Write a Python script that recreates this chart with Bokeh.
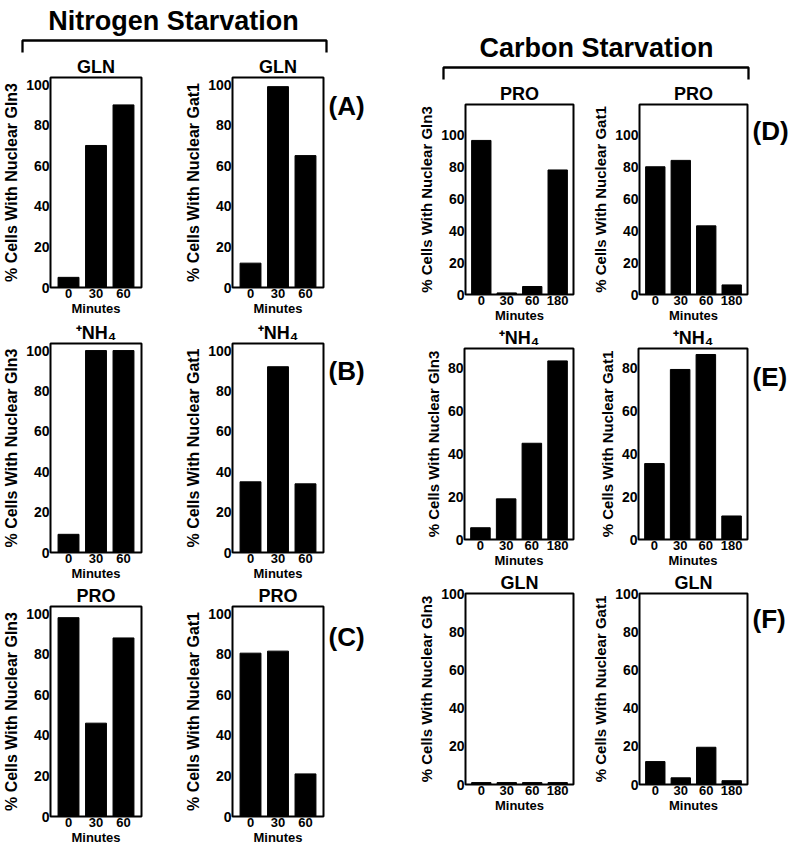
from bokeh.plotting import figure
from bokeh.layouts import row, column
from bokeh.models import FactorRange, Range1d, FixedTicker
from bokeh.core.properties import value
from bokeh.embed import file_html
from bokeh.resources import INLINE

FONT = "Liberation Sans"

# ---------------- data ----------------
minutes_n = ["0", "30", "60"]
minutes_c = ["0", "30", "60", "180"]

n_gln_gln3 = [5, 70, 90]
n_gln_gat1 = [12, 99, 65]
n_nh4_gln3 = [9, 100, 100]
n_nh4_gat1 = [35, 92, 34]
n_pro_gln3 = [98, 46, 88]
n_pro_gat1 = [80.5, 81.5, 21]

c_pro_gln3 = [96.5, 1, 5, 78]
c_pro_gat1 = [80, 84, 43, 6]
c_nh4_gln3 = [5.5, 19, 45, 83.5]
c_nh4_gat1 = [35.5, 79.5, 86.5, 11]
c_gln_gln3 = [1, 1, 1, 1]
c_gln_gat1 = [12, 3.5, 19.5, 2]

ticks_100 = [0, 20, 40, 60, 80, 100]
ticks_80 = [0, 20, 40, 60, 80]


def panel(factors, values, title, ylabel, width, height, bl, br, bt, bb,
          y_end, yticks, pad, ylabel_size):
    p = figure(width=width, height=height,
               x_range=FactorRange(*factors, range_padding=pad,
                                   range_padding_units="absolute"),
               y_range=Range1d(0, y_end),
               toolbar_location=None, output_backend="svg",
               min_border_left=bl, min_border_right=br,
               min_border_top=bt, min_border_bottom=bb)
    p.vbar(x=factors, top=values, width=0.76, color="black")
    p.grid.visible = False
    p.outline_line_color = "black"
    p.outline_line_width = 2
    p.outline_line_alpha = 1

    p.title.text = title
    p.title.align = "center"
    p.title.text_font = FONT
    p.title.text_font_size = "18px"
    p.title.text_font_style = "bold"
    p.title.text_color = "black"
    p.title.standoff = 1

    for ax in (p.xaxis[0], p.yaxis[0]):
        ax.axis_line_color = None
        ax.major_tick_line_color = None
        ax.minor_tick_line_color = None
        ax.major_tick_out = 0
        ax.major_tick_in = 0
        ax.minor_tick_out = 0
        ax.minor_tick_in = 0
        ax.major_label_text_font = FONT
        ax.major_label_text_font_style = "bold"
        ax.major_label_text_color = "black"
        ax.axis_label_text_font = FONT
        ax.axis_label_text_font_style = "bold"
        ax.axis_label_text_color = "black"

    p.xaxis.major_label_text_font_size = "13px"
    p.xaxis.axis_label = "Minutes"
    p.xaxis.axis_label_text_font_size = "13px"
    p.xaxis.major_label_standoff = 1
    p.xaxis.axis_label_standoff = 0

    p.yaxis.ticker = FixedTicker(ticks=yticks)
    p.yaxis.major_label_text_font_size = "14px"
    p.yaxis.axis_label = ylabel
    p.yaxis.axis_label_text_font_size = ylabel_size
    p.yaxis.major_label_standoff = 1
    p.yaxis.axis_label_standoff = 3
    return p


def blank(width, height):
    p = figure(width=width, height=height, x_range=Range1d(0, width),
               y_range=Range1d(height, 0), toolbar_location=None,
               output_backend="svg", x_axis_type=None, y_axis_type=None,
               min_border=0, outline_line_color=None)
    p.grid.visible = False
    return p


def header(text, width, height, cx, cy, x0, x1, ybar, ytick):
    p = blank(width, height)
    p.text(x=[cx], y=[cy], text=[text], text_font=value(FONT),
           text_font_size="27px", text_font_style="bold",
           text_align="center", text_baseline="middle", color="black")
    p.line(x=[x0, x0, x1, x1], y=[ytick, ybar, ybar, ytick],
           line_width=2.3, color="black")
    return p


def letter_fig(letter, width, height, y):
    p = blank(width, height)
    p.text(x=[0], y=[y], text=[letter], text_font=value(FONT),
           text_font_size="26px", text_font_style="bold",
           text_align="left", text_baseline="middle", color="black")
    return p


G3 = "% Cells With Nuclear Gln3"
G1 = "% Cells With Nuclear Gat1"
NH4 = "\u207aNH\u2084"

# ---------------- left block (Nitrogen) ----------------
LP = 0.155
L_FW = 91
hdrL = header("Nitrogen Starvation", 415, 54, 173, 20, 22, 326, 40, 52)

rows_left = []
specs_left = [
    ("GLN", n_gln_gln3, n_gln_gat1, 22, 211, 33, "(A)", 13.5),
    (NH4, n_nh4_gln3, n_nh4_gat1, 22, 211, 30, "(B)", 13),
    ("PRO", n_pro_gln3, n_pro_gat1, 22, 212, 30, "(C)", 16),
]
for t, v1, v2, bt, fh, bb, letter, dy in specs_left:
    h = bt + fh + bb
    a = panel(minutes_n, v1, t, G3, 50 + L_FW + 41, h, 50, 41, bt, bb,
              103.5, ticks_100, LP, "16px")
    b = panel(minutes_n, v2, t, G1, 50 + L_FW + 5, h, 50, 5, bt, bb,
              103.5, ticks_100, LP, "16px")
    lf = letter_fig(letter, 415 - (50 + L_FW + 41) - (50 + L_FW + 5), h, bt + dy)
    rows_left.append(row(a, b, lf))

left = column(hdrL, *rows_left)

# ---------------- right block (Carbon) ----------------
RP = 0.12
R_FW = 109
hdrR = header("Carbon Starvation", 385, 81, 181, 47, 28, 333, 67, 79)

rows_right = []
specs_right = [
    ("PRO", c_pro_gln3, c_pro_gat1, 22, 192, 30, 119, ticks_100, "(D)", 12),
    (NH4, c_nh4_gln3, c_nh4_gat1, 22, 193, 30, 89.3, ticks_80, "(E)", 14),
    ("GLN", c_gln_gln3, c_gln_gat1, 22, 193, 30, 100, ticks_100, "(F)", 11),
]
for t, v1, v2, bt, fh, bb, yend, yt, letter, dy in specs_right:
    h = bt + fh + bb
    a = panel(minutes_c, v1, t, G3, 49 + R_FW + 16, h, 49, 16, bt, bb,
              yend, yt, RP, "15px")
    b = panel(minutes_c, v2, t, G1, 49 + R_FW + 5, h, 49, 5, bt, bb,
              yend, yt, RP, "15px")
    lf = letter_fig(letter, 385 - (49 + R_FW + 16) - (49 + R_FW + 5), h, bt + dy)
    rows_right.append(row(a, b, lf))

right = column(hdrR, *rows_right)

layout = row(left, right)

open("out.html", "w").write(file_html(layout, INLINE))
